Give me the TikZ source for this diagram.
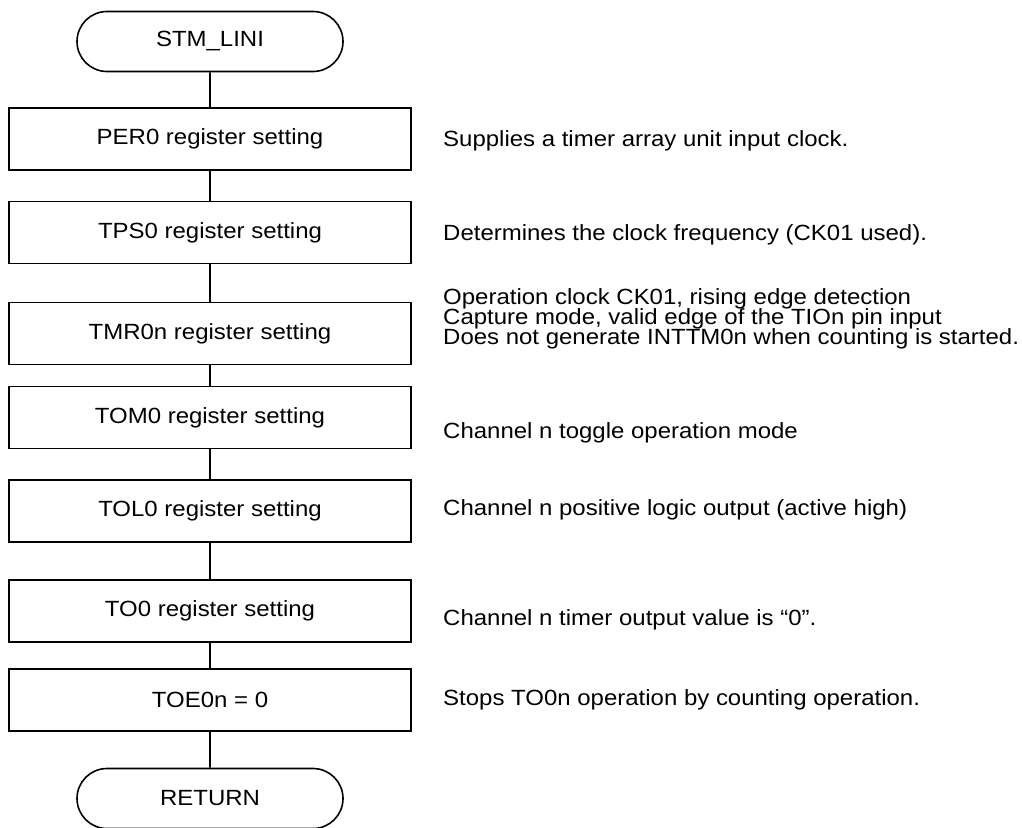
\documentclass[tikz,border=0pt]{standalone}
\usepackage{fontspec}
\setmainfont{Liberation Sans}[FakeStretch=1.09]
\usetikzlibrary{shapes.misc}
\begin{document}
\begin{tikzpicture}[x=1pt,y=-1pt,
  every node/.style={font=\fontsize{22}{20}\selectfont, text=black},
  termbox/.style={draw=black, line width=1.6pt, rounded rectangle, minimum width=266pt, minimum height=60pt, inner sep=0pt},
  procbox/.style={draw=black, line width=1.6pt, rectangle, minimum width=402pt, minimum height=62pt, inner sep=0pt},
  note/.style={anchor=base west, inner sep=0pt},
  link/.style={draw=black, line width=1.6pt}]
\useasboundingbox (0,0) rectangle (1022,827);
\clip (0,0) rectangle (1022,827);
\fill[white] (0,0) rectangle (1022,827);

\node[termbox] (start) at (210,41.5) {STM\_LINI};
\node[procbox] (per)  at (210,139)   {PER0 register setting};
\node[procbox] (tps)  at (210,232.5) {TPS0 register setting};
\node[procbox] (tmr)  at (210,333.5) {TMR0n register setting};
\node[procbox] (tom)  at (210,417.5) {TOM0 register setting};
\node[procbox] (tol)  at (210,511)   {TOL0 register setting};
\node[procbox] (to)   at (210,611)   {TO0 register setting};
\node[procbox] (toe)  at (210,700)   {TOE0n = 0};
\node[termbox] (ret)  at (210,798.5) {RETURN};

\draw[link] (start) -- (per);
\draw[link] (per) -- (tps);
\draw[link] (tps) -- (tmr);
\draw[link] (tmr) -- (tom);
\draw[link] (tom) -- (tol);
\draw[link] (tol) -- (to);
\draw[link] (to) -- (toe);
\draw[link] (toe) -- (ret);

\node[note] (n1)  at (443,146) {Supplies a timer array unit input clock.};
\node[note] (n2)  at (443,240) {Determines the clock frequency (CK01 used).};
\node[note] (n3a) at (443,304.5) {Operation clock CK01, rising edge detection};
\node[note] (n3b) at (443,324.5) {Capture mode, valid edge of the TIOn pin input};
\node[note] (n3c) at (443,344.5) {Does not generate INTTM0n when counting is started.};
\node[note] (n4)  at (443,438) {Channel n toggle operation mode};
\node[note] (n5)  at (443,515) {Channel n positive logic output (active high)};
\node[note] (n6)  at (443,625) {Channel n timer output value is “0”.};
\node[note] (n7)  at (443,705) {Stops TO0n operation by counting operation.};
\end{tikzpicture}
\end{document}
